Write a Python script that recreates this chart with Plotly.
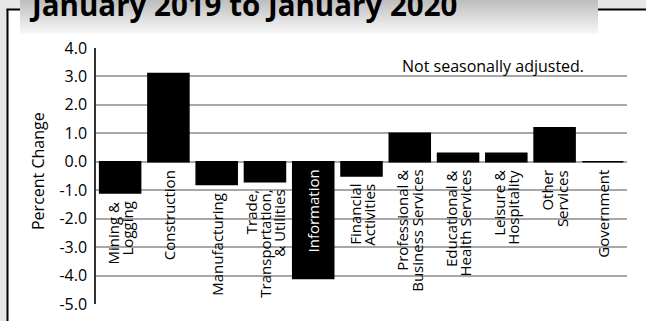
import plotly.graph_objects as go

# Percent change in employment by industry, Jan 2019 - Jan 2020
industries = [
    ["Mining &", "Logging"],
    ["Construction"],
    ["Manufacturing"],
    ["Trade,", "Transportation,", "& Utilities"],
    ["Information"],
    ["Financial", "Activities"],
    ["Professional &", "Business Services"],
    ["Educational &", "Health Services"],
    ["Leisure &", "Hospitality"],
    ["Other", "Services"],
    ["Government"],
]
pct_change = [-1.1, 3.1, -0.8, -0.7, -4.1, -0.5, 1.0, 0.3, 0.3, 1.2, 0.0]
y_ticks = [4, 3, 2, 1, 0, -1, -2, -3, -4, -5]

W, H = 646, 321
L, R, T, B = 96, 627, 48, 304  # plot area in pixels


def px_x(p):
    return (p - L) / (R - L)


def px_y(p):
    return (B - p) / (B - T)


idx = list(range(len(pct_change)))

fig = go.Figure(
    go.Bar(
        x=idx,
        y=pct_change,
        marker=dict(color="black", line=dict(color="black", width=1.5)),
        width=0.85,
        hoverinfo="skip",
    )
)

shapes = []
# light gray surround outside the frame
shapes.append(dict(type="rect", xref="paper", yref="paper", x0=px_x(0), x1=px_x(7),
                   y0=px_y(H), y1=px_y(0), fillcolor="#e6e6e6", line_width=0, layer="above"))
shapes.append(dict(type="rect", xref="paper", yref="paper", x0=px_x(0), x1=px_x(W),
                   y0=px_y(9), y1=px_y(0), fillcolor="#e6e6e6", line_width=0, layer="above"))
# black frame lines
shapes.append(dict(type="line", xref="paper", yref="paper", x0=px_x(7.5), x1=px_x(7.5),
                   y0=px_y(9), y1=px_y(H + 2), line=dict(color="black", width=2), layer="above"))
shapes.append(dict(type="line", xref="paper", yref="paper", x0=px_x(6.5), x1=px_x(W + 2),
                   y0=px_y(9.5), y1=px_y(9.5), line=dict(color="black", width=2), layer="above"))
# title banner with vertical gradient
top_c, bot_c = (190, 190, 190), (248, 248, 248)
n = 34
for i in range(n):
    t = i / (n - 1)
    c = tuple(round(top_c[k] + (bot_c[k] - top_c[k]) * t) for k in range(3))
    shapes.append(dict(type="rect", xref="paper", yref="paper", x0=px_x(20), x1=px_x(598),
                       y0=px_y(i + 1), y1=px_y(i), fillcolor="rgb(%d,%d,%d)" % c,
                       line_width=0, layer="above"))

annotations = []
annotations.append(dict(text="<b>January 2019 to January 2020</b>", xref="paper", yref="paper",
                        x=px_x(27), y=px_y(16), xanchor="left", yanchor="bottom",
                        showarrow=False, yshift=-11,
                        font=dict(family="Liberation Sans Narrow, Open Sans", size=29.5, color="black")))
annotations.append(dict(text="Percent Change", xref="paper", yref="paper",
                        x=px_x(38), y=px_y(171), xanchor="center", yanchor="middle",
                        textangle=-90, showarrow=False,
                        font=dict(family="Open Sans", size=16, color="black")))
annotations.append(dict(text="Not seasonally adjusted.", xref="paper", yref="paper",
                        x=px_x(400), y=px_y(66), xanchor="left", yanchor="middle",
                        showarrow=False, font=dict(family="Open Sans", size=16, color="black")))

# category labels, rotated, one annotation per text line
line_gap = 14.5
for i, (lines, v) in enumerate(zip(industries, pct_change)):
    inside = v < -3
    base = 0 if (v >= 0 or inside) else v
    color = "white" if inside else "black"
    nl = len(lines)
    for j, ln in enumerate(lines):
        annotations.append(dict(text=ln, x=i, y=base, xref="x", yref="y",
                                textangle=-90, xanchor="center", yanchor="top",
                                xshift=(j - (nl - 1) / 2) * line_gap, yshift=-7,
                                showarrow=False, borderpad=0,
                                font=dict(family="Open Sans", size=15, color=color)))

fig.update_layout(
    width=W, height=H,
    margin=dict(l=L, r=W - R, t=T, b=H - B, pad=0, autoexpand=False),
    paper_bgcolor="white", plot_bgcolor="white",
    showlegend=False,
    bargap=0.15,
    xaxis=dict(range=[-0.5, len(pct_change) - 0.5], showticklabels=False, showgrid=False,
               zeroline=False, showline=False, fixedrange=True, automargin=False),
    yaxis=dict(range=[-5, 4], tickvals=y_ticks, ticktext=["%.1f" % t for t in y_ticks],
               showgrid=True, gridcolor="#a8a8a8", gridwidth=1.5,
               zeroline=True, zerolinecolor="#a8a8a8", zerolinewidth=1.5,
               showline=True, linecolor="#333333", linewidth=1.5,
               ticks="", ticklabelstandoff=4, automargin=False,
               tickfont=dict(family="Open Sans", size=16, color="black"), fixedrange=True),
    shapes=shapes,
    annotations=annotations,
)

fig.write_html("out.html")
